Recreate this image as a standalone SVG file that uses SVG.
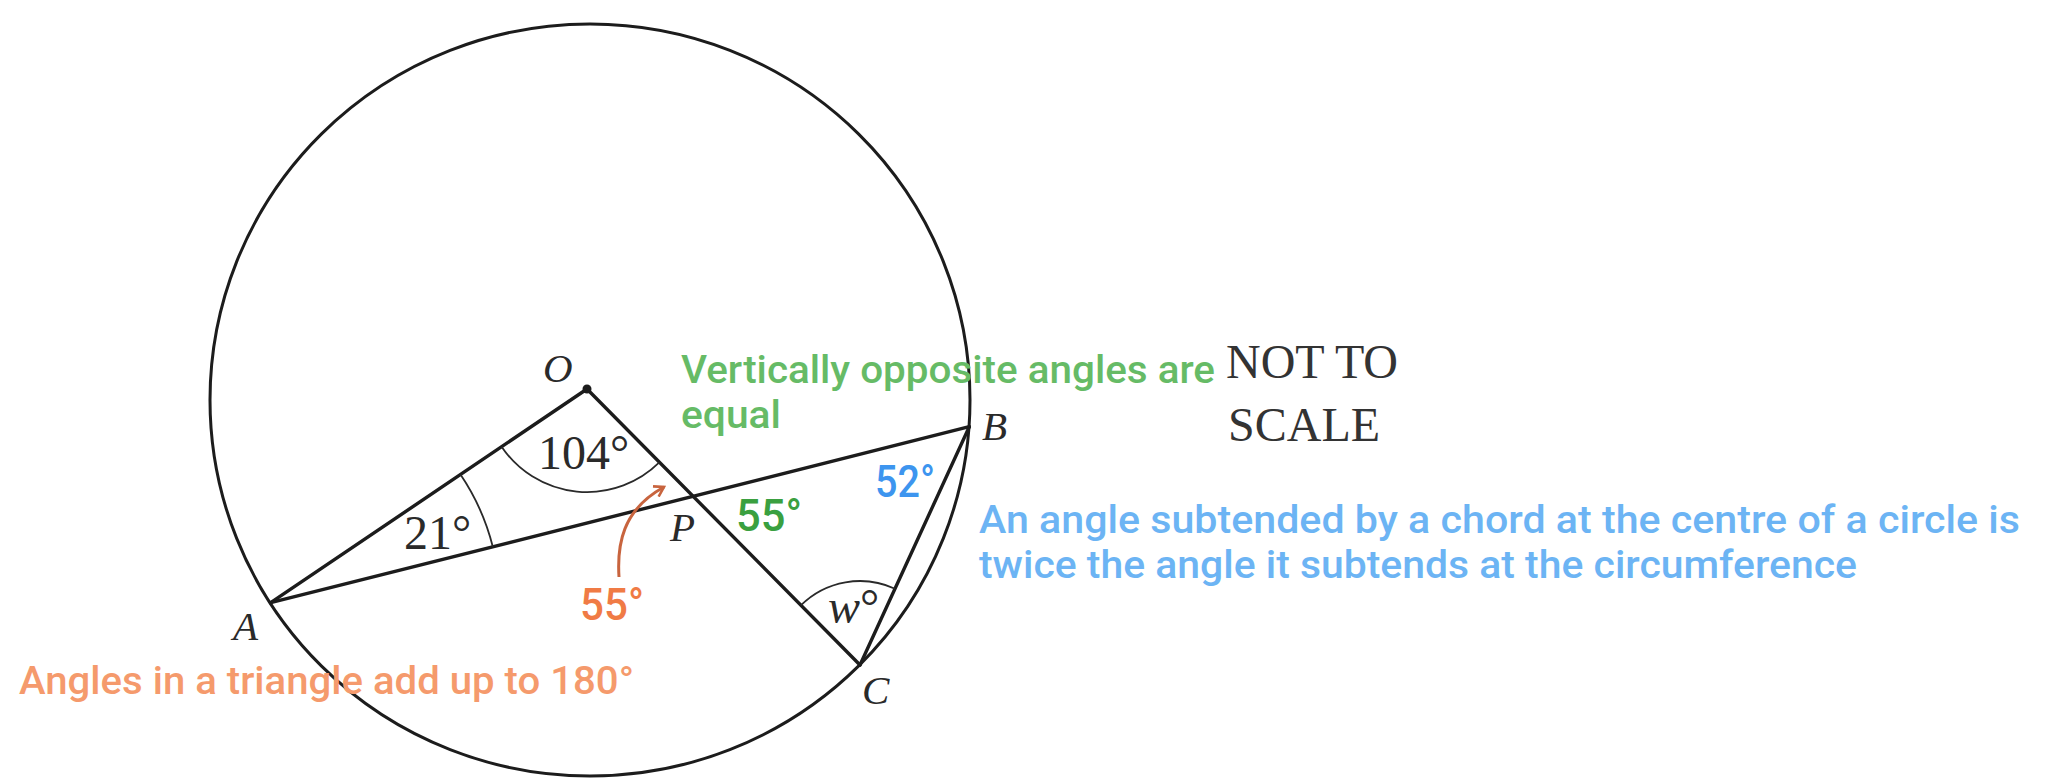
<svg xmlns="http://www.w3.org/2000/svg" width="2052" height="779" viewBox="0 0 2052 779">
<defs>
<style>
.ln{stroke:#1c1c1c;stroke-width:3.4;fill:none;stroke-linecap:round}
.circ{stroke:#1c1c1c;stroke-width:3;fill:none}
.arc{stroke:#2a2a2a;stroke-width:1.8;fill:none}
.lbl{font-family:"Liberation Serif","Times New Roman",serif;font-style:italic;font-size:41px;fill:#2a2a2a}
.ang{font-family:"Liberation Serif","Times New Roman",serif;font-size:48px;fill:#2a2a2a}
.note{font-family:Roboto,"DejaVu Sans",sans-serif;font-weight:500;font-size:38px}
.big{font-family:Roboto,"DejaVu Sans",sans-serif;font-weight:500;font-size:44px}
.green{fill:#66bb66}
.dgreen{fill:#3aa040}
.blue{fill:#6cb4f4}
.dblue{fill:#3d95ef}
.orange{fill:#f59a6c}
.dorange{fill:#f07b45}
.nts{font-family:"Liberation Serif","Times New Roman",serif;font-size:48px;fill:#333333}
</style>
<marker id="ah" viewBox="0 0 12 12" refX="10" refY="6" markerWidth="14" markerHeight="14" markerUnits="userSpaceOnUse" orient="auto">
<path d="M2 1 L10 6 L2 11" fill="none" stroke="#c8643e" stroke-width="2.2"/>
</marker>
</defs>
<rect width="2052" height="779" fill="#ffffff"/>
<ellipse class="circ" cx="590" cy="400" rx="380" ry="376"/>
<g id="connectors">
<line class="ln" x1="587" y1="389" x2="270.7" y2="602.7"/>
<line class="ln" x1="587" y1="389" x2="860" y2="665"/>
<line class="ln" x1="270.7" y1="602.7" x2="969.3" y2="426.7"/>
<line class="ln" x1="969.3" y1="426.7" x2="860" y2="665"/>
<path class="arc" d="M501.6 446.7 A103 103 0 0 0 659.3 462.4"/>
<path class="arc" d="M460.5 474.5 A229 229 0 0 1 492.8 546.8"/>
<path class="arc" d="M801 605.2 A84 84 0 0 1 895 588.7"/>
<path d="M619 577 C617 545 622 510 664 487" fill="none" stroke="#c8643e" stroke-width="3" marker-end="url(#ah)"/>
</g>
<g id="node-O">
<circle cx="587" cy="389" r="4.5" fill="#1c1c1c"/>
<text class="lbl" x="543" y="382">O</text>
<text class="ang" x="538" y="469">104°</text>
</g>
<g id="node-A">
<text class="lbl" x="233" y="640">A</text>
<text class="ang" x="404" y="549">21°</text>
</g>
<g id="node-B">
<text class="lbl" x="982" y="440">B</text>
<text class="big dblue" x="875" y="497" font-size="46" textLength="60" lengthAdjust="spacingAndGlyphs">52°</text>
</g>
<g id="node-C">
<text class="lbl" x="862" y="704">C</text>
<text class="ang" x="828" y="623" font-size="44"><tspan font-style="italic">w</tspan>°</text>
</g>
<g id="node-P">
<text class="lbl" x="670" y="541">P</text>
<text class="big dgreen" x="736" y="531" textLength="66" lengthAdjust="spacingAndGlyphs">55°</text>
<text class="big dorange" x="580" y="620" textLength="64" lengthAdjust="spacingAndGlyphs">55°</text>
</g>
<g id="notes">
<text class="note green" x="681" y="383" textLength="534" lengthAdjust="spacingAndGlyphs">Vertically opposite angles are</text>
<text class="note green" x="681" y="428" textLength="100" lengthAdjust="spacingAndGlyphs">equal</text>
<text class="note blue" x="979" y="533" textLength="1041" lengthAdjust="spacingAndGlyphs">An angle subtended by a chord at the centre of a circle is</text>
<text class="note blue" x="979" y="578" textLength="878" lengthAdjust="spacingAndGlyphs">twice the angle it subtends at the circumference</text>
<text class="note orange" x="19" y="694" textLength="615" lengthAdjust="spacingAndGlyphs">Angles in a triangle add up to 180°</text>
<text class="nts" x="1226" y="378">NOT TO</text>
<text class="nts" x="1228" y="441">SCALE</text>
</g>
</svg>
